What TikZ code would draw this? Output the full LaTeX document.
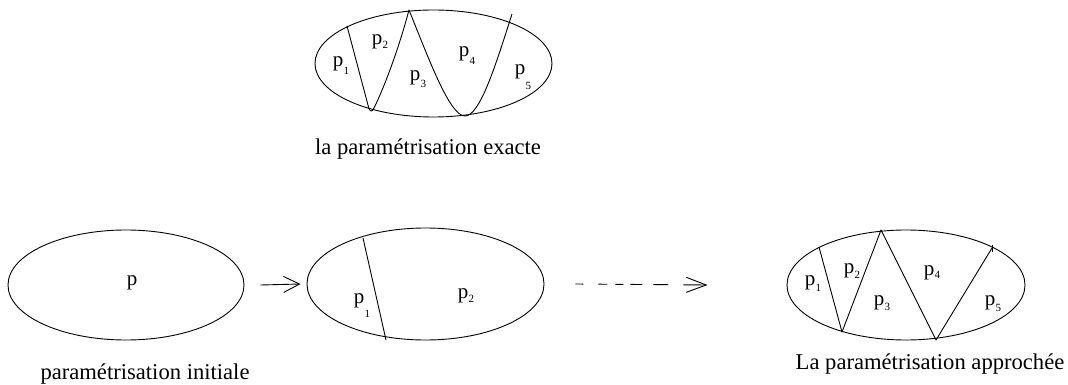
\documentclass[tikz,border=0pt]{standalone}
\usepackage{fontspec}
\setmainfont{Liberation Serif}
\usetikzlibrary{shapes.geometric,arrows.meta}
\newcommand\plab[2]{p\kern0.3pt\raisebox{-#1pt}{\fontsize{11}{11}\selectfont #2}}
\tikzset{
  region/.style={ellipse,draw,inner sep=0pt,line width=0.9pt},
  cut/.style={line width=0.9pt,line join=round},
  lab/.style={anchor=base,inner sep=0pt,font=\fontsize{21}{24}\selectfont},
  caption/.style={anchor=base,inner sep=0pt,font=\fontsize{22.6}{27}\selectfont},
  barb/.style={line width=0.9pt,-{Straight Barb[length=16pt,width=16pt,line width=0.9pt]}},
  dbarb/.style={line width=0.9pt,-{Straight Barb[length=20pt,width=15pt,line width=0.9pt]}}
}
\begin{document}
\begin{tikzpicture}[x=1pt,y=-1pt]
\useasboundingbox (0,0) rectangle (1068,385);
% top: exact parametrisation
\node[region,minimum width=237pt,minimum height=107pt] (top) at (433.5,63.5) {};
\draw[cut] (347,26) -- (368.5,107) .. controls (370,112) and (372,112.5) .. (374,108)
  .. controls (384,88) and (399,48) .. (409,10)
  .. controls (430,62) and (450,116) .. (465,116)
  .. controls (480,116) and (496,64) .. (512,14);
\node[lab] (t1) at (341,67) {\plab{8}{1}};
\node[lab] (t2) at (380,45) {\plab{4}{2}};
\node[lab] (t3) at (418,81) {\plab{7}{3}};
\node[lab] (t4) at (467,57) {\plab{8}{4}};
\node[lab] (t5) at (523,75) {\plab{15}{5}};
\node[caption] (ctop) at (428,154) {la paramétrisation exacte};
% bottom left: initial
\node[region,minimum width=236pt,minimum height=110pt] (e1) at (126,285) {};
\node[lab] (p0) at (132,285) {p};
\node[caption] (cleft) at (145,379) {paramétrisation initiale};
% bottom middle
\node[region,minimum width=237pt,minimum height=112pt] (e2) at (425.5,284) {};
\draw[cut] (363,238) -- (386,340);
\node[lab] (m1) at (362,303.5) {\plab{14}{1}};
\node[lab] (m2) at (466,298) {\plab{4}{2}};
% bottom right: approximated
\node[region,minimum width=238pt,minimum height=110pt] (e3) at (906,285) {};
\draw[cut] (819,247) -- (842,332) -- (881,230) -- (936,340) -- (992,248);
\draw[line width=0.8pt] (992,245) -- (992,252);
\node[lab] (r1) at (813,285) {\plab{6}{1}};
\node[lab] (r2) at (852,273) {\plab{5}{2}};
\node[lab] (r3) at (882,305) {\plab{5}{3}};
\node[lab] (r4) at (932,275) {\plab{3}{4}};
\node[lab] (r5) at (993,305) {\plab{6}{5}};
\node[caption] (cright) at (930,369) {La paramétrisation approchée};
% arrows
\draw[barb] ([xshift=16pt]e1.east) -- ([xshift=-6pt]e2.west);
\draw[dbarb,dash pattern=on 8pt off 15pt on 9pt off 8pt on 8pt off 7pt on 12pt off 11pt on 15pt off 15pt on 40pt]
  ([xshift=31pt]e2.east) -- ([xshift=-79pt]e3.west);
\end{tikzpicture}
\end{document}
